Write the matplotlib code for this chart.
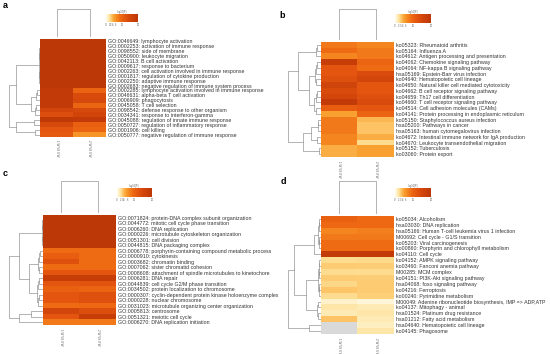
import numpy as np
import matplotlib
matplotlib.use("Agg")
import matplotlib.pyplot as plt
from matplotlib.colors import LinearSegmentedColormap

plt.rcParams['font.family'] = ['Liberation Sans', 'DejaVu Sans']

W, H = 550, 354

# ---- data: -log10(P) per term, two comparisons per panel ----
cols = ["1 W VS 0 W", "2 W VS 0 W"]

a_terms = ["GO:0046649: lymphocyte activation", "GO:0002253: activation of immune response",
           "GO:0098552: side of membrane", "GO:0050900: leukocyte migration",
           "GO:0042113: B cell activation", "GO:0009617: response to bacterium",
           "GO:0002263: cell activation involved in immune response",
           "GO:0001817: regulation of cytokine production", "GO:0002250: adaptive immune response",
           "GO:0002683: negative regulation of immune system process",
           "GO:0002285: lymphocyte activation involved in immune response",
           "GO:0046631: alpha-beta T cell activation", "GO:0006909: phagocytosis",
           "GO:0045058: T cell selection", "GO:0098542: defense response to other organism",
           "GO:0034341: response to interferon-gamma",
           "GO:0045088: regulation of innate immune response",
           "GO:0050727: regulation of inflammatory response", "GO:0001906: cell killing",
           "GO:0050777: negative regulation of immune response"]
a_col1 = [20, 20, 20, 20, 20, 20, 20, 20, 20, 20, 19, 19, 19, 19, 15.5, 13.5, 19.5, 14.5, 12, 11.5]
a_col2 = [20, 20, 20, 20, 20, 20, 20, 20, 20, 20, 10, 14, 14.5, 10, 14.5, 15.5, 19, 10.5, 10, 6]

b_terms = ["ko05323: Rheumatoid arthritis", "ko05164: Influenza A",
           "ko04612: Antigen processing and presentation", "ko04062: Chemokine signaling pathway",
           "ko04064: NF-kappa B signaling pathway", "hsa05169: Epstein-Barr virus infection",
           "ko04640: Hematopoietic cell lineage", "ko04650: Natural killer cell mediated cytotoxicity",
           "ko04662: B cell receptor signaling pathway", "ko04659: Th17 cell differentiation",
           "ko04660: T cell receptor signaling pathway", "ko04514: Cell adhesion molecules (CAMs)",
           "ko04141: Protein processing in endoplasmic reticulum",
           "ko05150: Staphylococcus aureus infection", "hsa05200: Pathways in cancer",
           "hsa05163: human cytomegalovirus infection",
           "ko04672: Intestinal immune network for IgA production",
           "ko04670: Leukocyte transendothelial migration", "ko05152: Tuberculosis",
           "ko03060: Protein export"]
b_col1 = [8, 9, 7, 18, 12, 12, 13, 16, 14, 15, 19, 11, 5, 8, 8, 8, 7, 7, 4.5, 4.5]
b_col2 = [7, 8, 8, 10, 9, 14, 15, 12, 12, 13, 14, 12, 10, 4, 3.5, 3.5, 4.5, 2.5, 5, 5]

c_terms = ["GO:0071824: protein-DNA complex subunit organization",
           "GO:0044772: mitotic cell cycle phase transition", "GO:0006260: DNA replication",
           "GO:0000226: microtubule cytoskeleton organization", "GO:0051301: cell division",
           "GO:0044815: DNA packaging complex",
           "GO:0006778: porphyrin-containing compound metabolic process",
           "GO:0000910: cytokinesis", "GO:0003682: chromatin binding",
           "GO:0007062: sister chromatid cohesion",
           "GO:0008608: attachment of spindle microtubules to kinetochore",
           "GO:0006281: DNA repair", "GO:0044839: cell cycle G2/M phase transition",
           "GO:0034502: protein localization to chromosome",
           "GO:0000307: cyclin-dependent protein kinase holoenzyme complex",
           "GO:0000228: nuclear chromosome", "GO:0031023: microtubule organizing center organization",
           "GO:0005813: centrosome", "GO:0051321: meiotic cell cycle",
           "GO:0006270: DNA replication initiation"]
c_col1 = [20, 20, 20, 20, 20, 20, 9, 11, 13, 9, 12, 18, 12, 10.5, 12, 12, 9, 15, 12, 8]
c_col2 = [20, 20, 20, 20, 20, 20, 9, 9, 9, 9, 12, 18, 12.5, 10, 13, 13, 9.5, 13.5, 18, 8]

d_terms = ["ko05034: Alcoholism", "hsa03030: DNA replication",
           "hsa05166: Human T-cell leukemia virus 1 infection", "M00692: Cell cycle - G1/S transition",
           "ko05203: Viral carcinogenesis", "ko00860: Porphyrin and chlorophyll metabolism",
           "ko04110: Cell cycle", "ko04152: AMPK signaling pathway", "ko03460: Fanconi anemia pathway",
           "M00285: MCM complex", "ko04151: PI3K-Akt signaling pathway",
           "hsa04068: foxo signaling pathway", "ko04216: Ferroptosis", "ko00240: Pyrimidine metabolism",
           "M00049: Adenine ribonucleotide biosynthesis, IMP => ADP,ATP", "ko04137: Mitophagy - animal",
           "hsa01524: Platinum drug resistance", "hsa01212: Fatty acid metabolism",
           "hsa04640: Hematopoietic cell lineage", "ko04145: Phagosome"]
d_col1 = [10.5, 9.5, 7, 8, 9, 9, 19, 2.5, 3.2, 2.5, 3.2, 2.7, 3.4, 2.5, 1.0, 1.8, 1.5, 3.5, np.nan, np.nan]
d_col2 = [9.5, 9.5, 7.5, 8, 9, 9, 19, 2.6, 3.1, 2.5, 3.1, 3.2, 3.2, 3.0, 0.6, 1.5, 1.8, 1.5, 1.2, 1.8]

cbar_ticks = [0, 2, 3, 4, 6, 10, 20]


# ---- dendrogram shapes (merge height, left, right) ----
def flat(lo, hi, h):
    if lo == hi:
        return lo
    mid = (lo + hi) // 2
    return (h, flat(lo, mid, h * 0.8), flat(mid + 1, hi, h * 0.8))

a_tree = (1.0, (0.75, flat(0, 9, 0.02), (0.3, flat(10, 12, 0.12), flat(13, 15, 0.15))),
          (0.75, flat(16, 17, 0.2), flat(18, 19, 0.15)))
b_tree = (1.0, (0.68, flat(0, 2, 0.15), (0.35, flat(3, 7, 0.18), flat(8, 12, 0.2))),
          (0.55, (0.3, flat(13, 15, 0.1), flat(16, 17, 0.12)), flat(18, 19, 0.05)))
c_tree = (1.0, (0.7, flat(0, 5, 0.02), (0.4, flat(6, 10, 0.15), flat(11, 16, 0.18))),
          (0.7, flat(17, 18, 0.35), 19))
d_tree = (1.0, (0.8, (0.2, flat(0, 5, 0.08), 6),
                (0.45, flat(7, 13, 0.08), flat(14, 17, 0.12))),
          (0.35, 18, 19))
col_tree = (1.0, 0, 1)

cmap = LinearSegmentedColormap.from_list("mscape", [
    (0.0, "#fffdf0"), (0.05, "#fff2c8"), (0.125, "#fedc90"), (0.175, "#fdc262"),
    (0.25, "#f9a232"), (0.35, "#f5861f"), (0.45, "#f06c14"), (0.6, "#e4560f"),
    (0.75, "#d4470c"), (1.0, "#bd3807")])
cmap.set_bad("#d9d9d9")

LINE = "#8a8a8a"


def box(x0, y0, x1, y1):
    return [x0 / W, 1 - y1 / H, (x1 - x0) / W, (y1 - y0) / H]


def draw_tree(ax, node, side):
    if not isinstance(node, tuple):
        return node, 0.0
    h, l, r = node
    pl, hl = draw_tree(ax, l, side)
    pr, hr = draw_tree(ax, r, side)
    if side == "left":
        ax.plot([hl, h, h, hr], [pl, pl, pr, pr], color=LINE, lw=0.45)
    else:
        ax.plot([pl, pl, pr, pr], [hl, h, h, hr], color=LINE, lw=0.45)
    return (pl + pr) / 2, h


def panel(fig, letter, letter_xy, heat, dendro_x0, coldendro_y0, cbar, terms, c1, c2, tree):
    x0, y0, x1, y1 = heat
    n = len(terms)
    vals = np.column_stack([c1, c2])

    ax = fig.add_axes(box(*heat))
    ax.imshow(vals, cmap=cmap, vmin=0, vmax=20, aspect="auto", interpolation="nearest")
    ax.set_xticks([])
    ax.set_yticks(range(n))
    ax.set_yticklabels(terms, fontsize=3.75, color="#333333")
    ax.yaxis.tick_right()
    ax.tick_params(axis="y", length=0, pad=1.2)
    for s in ax.spines.values():
        s.set_visible(False)
    for j, c in enumerate(cols):
        ax.text(j, n - 0.5 + 0.7, c, rotation=270, ha="center", va="top",
                fontsize=2.2, color="#555555")

    # row dendrogram
    rd = fig.add_axes(box(dendro_x0, y0, x0, y1))
    draw_tree(rd, tree, "left")
    rd.set_xlim(1.02, 0)
    rd.set_ylim(n - 0.5, -0.5)
    rd.axis("off")

    # column dendrogram
    cd = fig.add_axes(box(x0, coldendro_y0, x1, y0 - 2))
    draw_tree(cd, col_tree, "top")
    cd.set_xlim(-0.5, 1.5)
    cd.set_ylim(0, 1.02)
    cd.axis("off")

    # colour key
    cb = fig.add_axes(box(*cbar))
    grad = np.linspace(0, 20, 256)[None, :]
    cb.imshow(grad, cmap=cmap, vmin=0, vmax=20, aspect="auto", extent=[0, 20, 0, 1])
    cb.set_yticks([])
    cb.set_xticks(cbar_ticks)
    cb.set_xticklabels([str(t) for t in cbar_ticks], fontsize=1.8, color="#555555")
    cb.tick_params(axis="x", length=0, pad=0.8)
    for s in cb.spines.values():
        s.set_visible(False)
    cb.set_title("-log10(P)", fontsize=1.8, color="#555555", pad=1)

    fig.text(letter_xy[0] / W, 1 - letter_xy[1] / H, letter, fontsize=6.5,
             fontweight="bold", ha="left", va="center")


fig = plt.figure(figsize=(W / 100, H / 100), dpi=100)

panel(fig, "a", (3, 6), (40, 39, 106, 137), 8, 8, (106, 14, 138, 22),
      a_terms, a_col1, a_col2, a_tree)
panel(fig, "b", (279, 15), (321, 42, 394, 157), 287, 8, (395, 14, 431, 23),
      b_terms, b_col1, b_col2, b_tree)
panel(fig, "c", (3, 173), (43, 215, 116, 325), 8, 180, (117, 188, 152, 197),
      c_terms, c_col1, c_col2, c_tree)
panel(fig, "d", (281, 182), (321, 216, 394, 334), 287, 180, (395, 188, 431, 197),
      d_terms, d_col1, d_col2, d_tree)

fig.savefig("out.png", dpi=100)
